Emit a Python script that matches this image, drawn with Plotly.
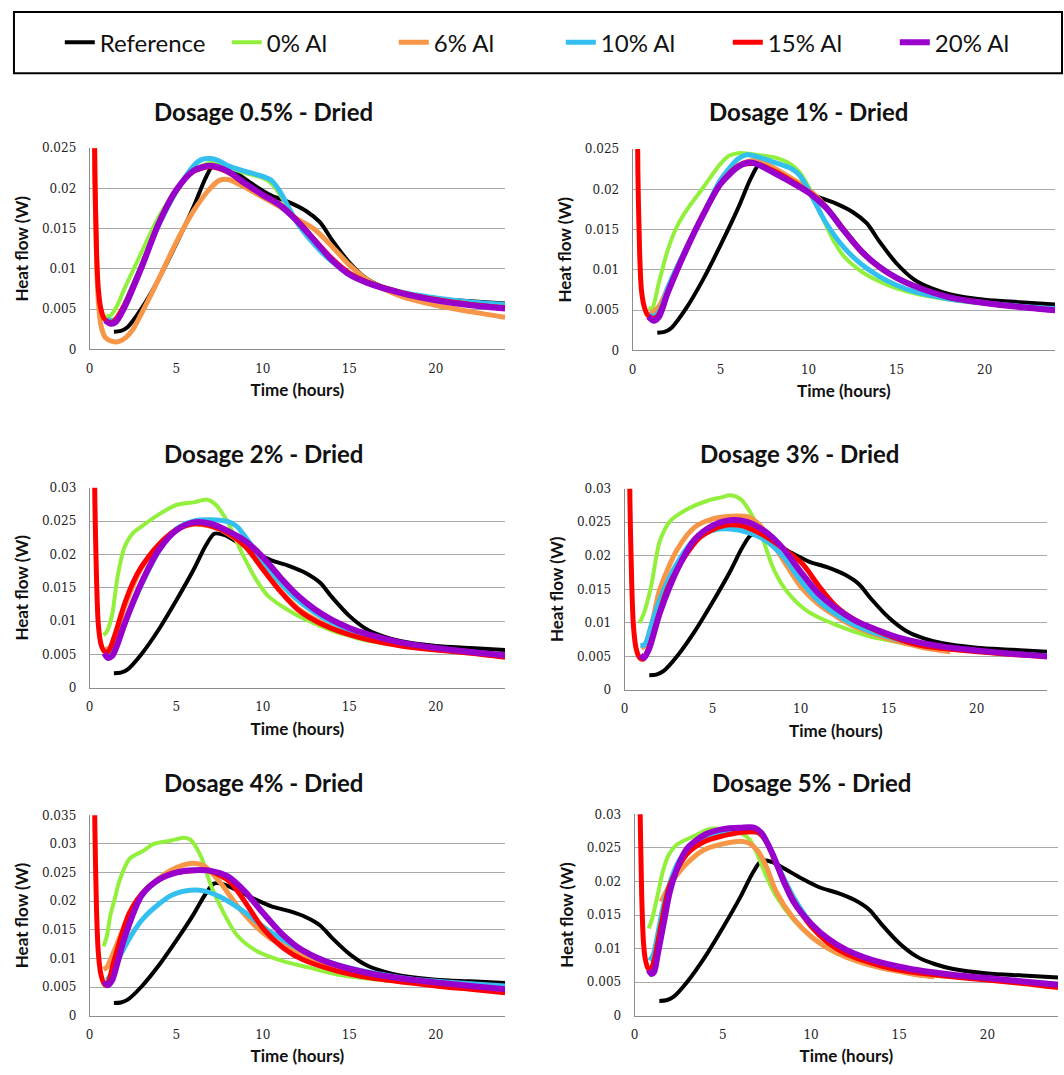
import plotly.graph_objects as go

# ---------------- data ----------------
SERIES_NAMES = ["Reference", "0% Al", "6% Al", "10% Al", "15% Al", "20% Al"]
SERIES_COLORS = ["#000000", "#92F03C", "#F79646", "#33BFEF", "#FF0000", "#9A00CC"]
SERIES_WIDTHS = [4, 4, 5, 5, 5, 6]
PANEL_TITLES = ["Dosage 0.5% - Dried", "Dosage 1% - Dried", "Dosage 2% - Dried",
                "Dosage 3% - Dried", "Dosage 4% - Dried", "Dosage 5% - Dried"]
PANEL_YMAX = [0.025, 0.025, 0.03, 0.03, 0.035, 0.03]
X_TICKS = [0, 5, 10, 15, 20]

# Reference (same curve in every panel)
REF_T = [1.4, 1.8, 2.2, 3, 4, 5, 6, 6.7, 7.2, 7.8, 8.5, 9.5, 10.5, 11.5, 12.5, 13.3, 14, 15, 16, 17, 18, 20, 22, 24]
REF_Y = [0.0022, 0.0023, 0.0028, 0.0051, 0.0088, 0.0131, 0.0177, 0.0213, 0.0231, 0.0229, 0.0219, 0.0204, 0.0191,
         0.0183, 0.0172, 0.0158, 0.0136, 0.0108, 0.0088, 0.0077, 0.0070, 0.0063, 0.0060, 0.0057]

# ---- Dosage 0.5% ----
P1_G_T = [0.95, 1.2, 1.6, 2, 2.5, 3, 4, 5, 6, 7, 8, 9, 10, 10.5, 11, 11.5, 12, 13, 14, 15, 16, 18, 20, 22, 24]
P1_G_Y = [0.0042, 0.0042, 0.0055, 0.0075, 0.0098, 0.0121, 0.0165, 0.0198, 0.0222, 0.0232, 0.0226, 0.0219, 0.0213,
          0.0206, 0.0192, 0.0175, 0.0157, 0.0132, 0.0111, 0.0095, 0.0084, 0.0070, 0.0063, 0.0059, 0.0056]
P1_O_T = [0.2, 0.3, 0.4, 0.5, 0.65, 0.9, 1.3, 1.7, 2.1, 2.5, 3, 4, 5, 6, 7, 7.5, 8, 9, 10, 11, 12, 13, 14, 15, 16,
          17, 18, 20, 22, 24]
P1_O_Y = [0.045, 0.022, 0.011, 0.006, 0.003, 0.0015, 0.0010, 0.0010, 0.0015, 0.0025, 0.0045, 0.0088, 0.0133, 0.0172,
          0.0201, 0.0210, 0.0211, 0.0201, 0.0189, 0.0177, 0.0162, 0.0149, 0.0128, 0.0105, 0.0087, 0.0075, 0.0066,
          0.0055, 0.0047, 0.0040]
P1_B_T = [1.0, 1.3, 1.7, 2, 3, 4, 5, 6, 6.5, 7, 7.5, 8, 9, 10, 10.5, 11, 11.5, 12, 13, 14, 15, 16, 18, 20, 22, 24]
P1_B_Y = [0.0038, 0.0036, 0.0042, 0.0055, 0.0105, 0.0155, 0.0196, 0.0228, 0.0236, 0.0237, 0.0234, 0.0228, 0.0221,
          0.0215, 0.0210, 0.0196, 0.0176, 0.0157, 0.0130, 0.0109, 0.0094, 0.0084, 0.0071, 0.0064, 0.0059, 0.0056]
P1_R_T = [0.2, 0.3, 0.4, 0.5, 0.65, 0.85, 1.1, 1.4, 2, 3, 4, 5, 6, 7, 8, 9, 10, 11, 12, 13, 14, 15, 16, 18, 20, 22, 24]
P1_R_Y = [0.045, 0.022, 0.012, 0.0075, 0.005, 0.0038, 0.0034, 0.0035, 0.0055, 0.0104, 0.0157, 0.0197, 0.0221, 0.0227,
          0.0220, 0.0205, 0.0192, 0.0180, 0.0160, 0.0136, 0.0113, 0.0095, 0.0084, 0.0071, 0.0062, 0.0056, 0.0052]
P1_P_T = [0.9, 1.2, 1.5, 2, 3, 4, 5, 6, 7, 8, 9, 10, 11, 12, 13, 14, 15, 16, 18, 20, 22, 24]
P1_P_Y = [0.0036, 0.0032, 0.0034, 0.0052, 0.0102, 0.0157, 0.0198, 0.0222, 0.0228, 0.0221, 0.0206, 0.0192, 0.0179,
          0.0159, 0.0135, 0.0111, 0.0093, 0.0083, 0.0070, 0.0061, 0.0055, 0.0051]

# ---- Dosage 1% ----
P2_G_T = [0.9, 1.1, 1.5, 2, 2.5, 3, 4, 5, 5.5, 6, 7, 8, 9, 9.5, 10, 10.5, 11, 11.5, 12, 13, 14, 15, 16, 18, 20, 22, 24]
P2_G_Y = [0.0053, 0.0052, 0.0085, 0.0125, 0.0153, 0.0172, 0.0202, 0.0232, 0.0242, 0.0245, 0.0243, 0.0240, 0.0231,
          0.0221, 0.0203, 0.0180, 0.0155, 0.0133, 0.0117, 0.0098, 0.0086, 0.0077, 0.0071, 0.0063, 0.0058, 0.0054, 0.0051]
P2_O_T = [1.0, 1.5, 2, 3, 4, 5, 6, 7, 8, 9, 10, 11, 12, 13, 14, 15, 16, 18, 20, 22, 24]
P2_O_Y = [0.0045, 0.0055, 0.0078, 0.0125, 0.0170, 0.0208, 0.0230, 0.0236, 0.0227, 0.0214, 0.0200, 0.0178, 0.0148,
          0.0122, 0.0103, 0.0090, 0.0080, 0.0066, 0.0059, 0.0054, 0.0050]
P2_B_T = [0.95, 1.2, 1.6, 2, 3, 4, 5, 6, 6.5, 7, 8, 9, 9.5, 10, 10.5, 11, 12, 13, 14, 15, 16, 18, 20, 22, 24]
P2_B_Y = [0.0045, 0.0042, 0.0052, 0.0078, 0.0125, 0.0168, 0.0212, 0.0238, 0.0243, 0.0241, 0.0234, 0.0226, 0.0217,
          0.0199, 0.0178, 0.0158, 0.0128, 0.0107, 0.0092, 0.0081, 0.0073, 0.0064, 0.0059, 0.0055, 0.0052]
P2_R_T = [0.2, 0.3, 0.4, 0.5, 0.65, 0.85, 1.1, 1.4, 2, 3, 4, 5, 6, 7, 8, 9, 10, 11, 12, 13, 14, 15, 16, 18, 20, 22, 24]
P2_R_Y = [0.045, 0.022, 0.012, 0.0075, 0.0055, 0.0044, 0.0040, 0.0042, 0.0072, 0.0123, 0.0168, 0.0207, 0.0229, 0.0232,
          0.0223, 0.0211, 0.0197, 0.0178, 0.0150, 0.0124, 0.0104, 0.0090, 0.0080, 0.0066, 0.0059, 0.0054, 0.0050]
P2_P_T = [0.9, 1.2, 1.5, 2, 3, 4, 5, 6, 6.5, 7, 8, 9, 10, 11, 12, 13, 14, 15, 16, 18, 20, 22, 24]
P2_P_Y = [0.0042, 0.0037, 0.0042, 0.0072, 0.0123, 0.0168, 0.0207, 0.0228, 0.0233, 0.0232, 0.0221, 0.0209, 0.0196,
          0.0177, 0.0149, 0.0123, 0.0104, 0.0090, 0.0080, 0.0066, 0.0059, 0.0054, 0.0050]

# ---- Dosage 2% ----
P3_G_T = [0.8, 1.0, 1.3, 1.6, 2, 2.5, 3, 4, 5, 6, 6.8, 7.3, 8, 8.8, 9.6, 10.3, 11.5, 12.6, 14, 15, 16, 18, 20, 22, 24]
P3_G_Y = [0.0079, 0.0085, 0.0110, 0.0165, 0.0210, 0.0232, 0.0242, 0.0260, 0.0274, 0.0278, 0.0282, 0.0274, 0.0247,
          0.0202, 0.0163, 0.0138, 0.0116, 0.0101, 0.0086, 0.0078, 0.0071, 0.0063, 0.0057, 0.0053, 0.0049]
P3_O_T = [0.9, 1.2, 1.6, 2, 3, 4, 5, 6, 7, 8, 9, 10, 11, 12, 13, 14, 15, 16, 18, 20, 22, 24]
P3_O_Y = [0.0058, 0.0060, 0.0085, 0.0120, 0.0180, 0.0215, 0.0236, 0.0245, 0.0242, 0.0231, 0.0211, 0.0178, 0.0146,
          0.0120, 0.0103, 0.0090, 0.0081, 0.0074, 0.0064, 0.0058, 0.0053, 0.0047]
P3_B_T = [0.95, 1.2, 1.6, 2, 3, 4, 5, 6, 7, 8, 8.5, 9, 10, 11, 12, 13, 14, 15, 16, 18, 20, 22, 24]
P3_B_Y = [0.0052, 0.0052, 0.0068, 0.0095, 0.0155, 0.0205, 0.0238, 0.0250, 0.0252, 0.0249, 0.0242, 0.0226, 0.0190,
          0.0158, 0.0132, 0.0113, 0.0098, 0.0087, 0.0078, 0.0066, 0.0059, 0.0054, 0.0049]
P3_R_T = [0.2, 0.3, 0.4, 0.5, 0.65, 0.85, 1.05, 1.4, 2, 2.5, 3, 4, 5, 6, 7, 8, 9, 10, 11, 12, 13, 14, 15, 16, 18,
          20, 22, 24]
P3_R_Y = [0.050, 0.028, 0.016, 0.0095, 0.0066, 0.0055, 0.0054, 0.0075, 0.0125, 0.0158, 0.0182, 0.0215, 0.0237, 0.0246,
          0.0243, 0.0232, 0.0212, 0.0178, 0.0145, 0.0118, 0.0101, 0.0089, 0.0080, 0.0073, 0.0063, 0.0057, 0.0052,
          0.0046]
P3_P_T = [0.85, 1.05, 1.3, 1.6, 2, 3, 4, 5, 6, 7, 8, 9, 10, 11, 12, 13, 14, 15, 16, 18, 20, 22, 24]
P3_P_Y = [0.0052, 0.0045, 0.0048, 0.0065, 0.0095, 0.0158, 0.0207, 0.0236, 0.0248, 0.0246, 0.0235, 0.0220, 0.0196,
          0.0166, 0.0139, 0.0118, 0.0102, 0.0090, 0.0081, 0.0068, 0.0060, 0.0054, 0.0049]

# ---- Dosage 3% ----
P4_G_T = [0.85, 1.1, 1.5, 2, 2.6, 3.6, 4.7, 5.5, 6, 6.6, 7.2, 7.8, 8.5, 9.3, 10.4, 12, 13.9, 15, 16, 18, 20, 22, 24]
P4_G_Y = [0.0100, 0.0115, 0.0154, 0.0222, 0.0252, 0.0270, 0.0282, 0.0287, 0.0290, 0.0284, 0.0262, 0.0228, 0.0178,
          0.0144, 0.0117, 0.0097, 0.0080, 0.0074, 0.0069, 0.0062, 0.0057, 0.0053, 0.0050]
P4_O_T = [0.95, 1.2, 1.6, 2, 3, 4, 5, 6, 7, 7.5, 8, 9, 10, 11, 12, 13, 14, 15, 16, 17, 18.5]
P4_O_Y = [0.0062, 0.0068, 0.0105, 0.0150, 0.0210, 0.0243, 0.0255, 0.0259, 0.0258, 0.0250, 0.0235, 0.0194, 0.0154,
          0.0128, 0.0110, 0.0095, 0.0085, 0.0076, 0.0069, 0.0063, 0.0057]
P4_B_T = [0.9, 1.15, 1.5, 2, 3, 4, 5, 6, 7, 8, 9, 10, 11, 12, 13, 14, 15, 16, 18, 20, 22, 24]
P4_B_Y = [0.0066, 0.0068, 0.0095, 0.0135, 0.0190, 0.0225, 0.0238, 0.0240, 0.0235, 0.0223, 0.0199, 0.0163, 0.0133,
          0.0113, 0.0098, 0.0087, 0.0079, 0.0072, 0.0064, 0.0058, 0.0054, 0.0051]
P4_R_T = [0.2, 0.3, 0.4, 0.5, 0.65, 0.85, 1.05, 1.3, 1.7, 2.4, 3.4, 4.3, 5.5, 6.6, 7.8, 8.9, 10.1, 11, 12, 13.1, 14.6,
          16.7, 19.6, 22, 24]
P4_R_Y = [0.050, 0.028, 0.016, 0.0095, 0.0062, 0.0048, 0.0046, 0.0058, 0.0090, 0.0149, 0.0198, 0.0228, 0.0244, 0.0245,
          0.0232, 0.0213, 0.0188, 0.0156, 0.0125, 0.0104, 0.0085, 0.0067, 0.0058, 0.0053, 0.0050]
P4_P_T = [0.9, 1.1, 1.4, 2, 3, 4, 5, 6, 7, 8, 9, 10, 11, 12, 13, 14, 15, 16, 18, 20, 22, 24]
P4_P_Y = [0.0052, 0.0048, 0.0062, 0.0115, 0.0180, 0.0225, 0.0245, 0.0253, 0.0250, 0.0236, 0.0211, 0.0176, 0.0144,
          0.0122, 0.0105, 0.0093, 0.0083, 0.0075, 0.0065, 0.0059, 0.0054, 0.0050]

# ---- Dosage 4% ----
P5_G_T = [0.8, 1.0, 1.2, 1.5, 1.7, 2.3, 3.1, 3.7, 4.7, 5.4, 5.8, 6.4, 7, 7.7, 8.5, 9.7, 11.2, 12.7, 14.3, 16, 18, 20,
          22, 24]
P5_G_Y = [0.0121, 0.0140, 0.0176, 0.0210, 0.0234, 0.0274, 0.0288, 0.0300, 0.0306, 0.0311, 0.0308, 0.0280, 0.0228,
          0.0182, 0.0141, 0.0112, 0.0095, 0.0084, 0.0072, 0.0065, 0.0059, 0.0055, 0.0051, 0.0047]
P5_O_T = [0.8, 1.0, 1.4, 2.3, 3.3, 4.7, 5.8, 6.6, 7.5, 8.5, 9.5, 10.4, 12.3, 14.3, 16.2, 18, 20, 22, 24]
P5_O_Y = [0.0081, 0.0085, 0.0112, 0.0176, 0.0222, 0.0254, 0.0266, 0.0262, 0.0234, 0.0193, 0.0159, 0.0136, 0.0107,
          0.0084, 0.0069, 0.0060, 0.0054, 0.0048, 0.0042]
P5_B_T = [1.0, 1.3, 1.8, 2.5, 3.1, 4, 4.7, 5.8, 6.6, 7.5, 8.9, 10.4, 12, 13.5, 15.2, 18.1, 20, 22, 24]
P5_B_Y = [0.0062, 0.0075, 0.0107, 0.0145, 0.0170, 0.0195, 0.0210, 0.0219, 0.0218, 0.0208, 0.0182, 0.0147, 0.0118,
          0.0097, 0.0082, 0.0066, 0.0060, 0.0056, 0.0052]
P5_R_T = [0.2, 0.3, 0.4, 0.5, 0.65, 0.85, 1.0, 1.4, 2.3, 3.3, 4.7, 5.8, 6.9, 8.1, 9.1, 10, 11.2, 12.3, 14.3, 16.2, 20,
          22, 24]
P5_R_Y = [0.060, 0.033, 0.018, 0.011, 0.0072, 0.0055, 0.0053, 0.0095, 0.0180, 0.0222, 0.0248, 0.0253, 0.0253, 0.0234,
          0.0193, 0.0153, 0.0118, 0.0098, 0.0078, 0.0066, 0.0052, 0.0046, 0.0040]
P5_P_T = [0.85, 1.05, 1.3, 1.6, 2, 3, 4, 5, 6, 7, 8, 9, 10, 11, 12, 13, 14, 15, 16, 18, 20, 22, 24]
P5_P_Y = [0.0060, 0.0053, 0.0062, 0.0092, 0.0135, 0.0210, 0.0238, 0.0250, 0.0254, 0.0253, 0.0243, 0.0216, 0.0180,
          0.0146, 0.0120, 0.0103, 0.0091, 0.0082, 0.0075, 0.0065, 0.0058, 0.0052, 0.0046]

# ---- Dosage 5% ----
P6_G_T = [0.8, 1.0, 1.3, 1.6, 1.9, 2.4, 3.4, 4.2, 5, 6, 6.5, 7, 7.3, 8, 9, 10, 11, 12, 14, 16, 18, 20, 24]
P6_G_Y = [0.0130, 0.0145, 0.0179, 0.0215, 0.0238, 0.0255, 0.0268, 0.0278, 0.0278, 0.0272, 0.0263, 0.0238, 0.0218,
          0.0179, 0.0143, 0.0118, 0.0099, 0.0087, 0.0072, 0.0063, 0.0058, 0.0054, 0.0047]
P6_O_T = [1.5, 2, 3, 4, 5, 6, 6.5, 7, 7.5, 8, 9, 10, 11, 12, 13, 14, 15, 16, 17]
P6_O_Y = [0.0170, 0.0195, 0.0228, 0.0248, 0.0256, 0.0260, 0.0257, 0.0245, 0.0220, 0.0186, 0.0145, 0.0118, 0.0100,
          0.0087, 0.0078, 0.0071, 0.0066, 0.0061, 0.0058]
P6_B_T = [0.85, 1.05, 1.3, 1.6, 2, 2.5, 3, 4, 5, 6, 7, 7.5, 8, 9, 10, 11, 12, 13, 14, 15, 16, 18, 20, 22, 24]
P6_B_Y = [0.0082, 0.0090, 0.0120, 0.0160, 0.0198, 0.0230, 0.0248, 0.0265, 0.0272, 0.0275, 0.0273, 0.0258, 0.0230,
          0.0177, 0.0138, 0.0112, 0.0095, 0.0084, 0.0076, 0.0070, 0.0065, 0.0059, 0.0055, 0.0051, 0.0047]
P6_R_T = [0.2, 0.3, 0.4, 0.5, 0.6, 0.75, 0.9, 1.1, 1.5, 2, 3, 4, 5, 6, 7, 7.5, 8, 9, 10, 11, 12, 13, 14, 15, 16, 18,
          20, 22, 24]
P6_R_Y = [0.060, 0.033, 0.018, 0.011, 0.0085, 0.0071, 0.0068, 0.0082, 0.0135, 0.0195, 0.0242, 0.0260, 0.0268, 0.0273,
          0.0273, 0.0258, 0.0228, 0.0172, 0.0133, 0.0108, 0.0092, 0.0082, 0.0074, 0.0068, 0.0064, 0.0058, 0.0053,
          0.0048, 0.0042]
P6_P_T = [0.8, 0.95, 1.1, 1.3, 1.7, 2, 2.5, 3, 4, 5, 6, 6.8, 7.2, 7.8, 8.5, 9, 10, 11, 12, 13, 14, 15, 16, 18, 20,
          22, 24]
P6_P_Y = [0.0068, 0.0062, 0.0065, 0.0090, 0.0145, 0.0185, 0.0225, 0.0250, 0.0270, 0.0278, 0.0280, 0.0280, 0.0272,
          0.0242, 0.0197, 0.0170, 0.0137, 0.0114, 0.0098, 0.0087, 0.0079, 0.0073, 0.0068, 0.0061, 0.0056, 0.0051,
          0.0046]

PANELS = [
    [(REF_T, REF_Y), (P1_G_T, P1_G_Y), (P1_O_T, P1_O_Y), (P1_B_T, P1_B_Y), (P1_R_T, P1_R_Y), (P1_P_T, P1_P_Y)],
    [(REF_T, REF_Y), (P2_G_T, P2_G_Y), (P2_O_T, P2_O_Y), (P2_B_T, P2_B_Y), (P2_R_T, P2_R_Y), (P2_P_T, P2_P_Y)],
    [(REF_T, REF_Y), (P3_G_T, P3_G_Y), (P3_O_T, P3_O_Y), (P3_B_T, P3_B_Y), (P3_R_T, P3_R_Y), (P3_P_T, P3_P_Y)],
    [(REF_T, REF_Y), (P4_G_T, P4_G_Y), (P4_O_T, P4_O_Y), (P4_B_T, P4_B_Y), (P4_R_T, P4_R_Y), (P4_P_T, P4_P_Y)],
    [(REF_T, REF_Y), (P5_G_T, P5_G_Y), (P5_O_T, P5_O_Y), (P5_B_T, P5_B_Y), (P5_R_T, P5_R_Y), (P5_P_T, P5_P_Y)],
    [(REF_T, REF_Y), (P6_G_T, P6_G_Y), (P6_O_T, P6_O_Y), (P6_B_T, P6_B_Y), (P6_R_T, P6_R_Y), (P6_P_T, P6_P_Y)],
]

# ---------------- layout geometry (pixels) ----------------
W, H = 1064, 1075
# plot areas: (left, right, top, bottom) in px
AREAS = [(86, 503, 143, 347), (631, 1055, 144, 348),
         (86, 503, 487, 690), (623, 1047, 488, 692),
         (86, 503, 819, 1022), (633, 1058, 818, 1022)]
TITLE_POS = [(260, 106), (808, 106), (260, 452), (799, 452), (260, 786), (811, 786)]

TITLE_FONT = "Lato"
TICK_FONT = "DejaVu Serif"

fig = go.Figure()
layout = {}
annotations = []
for i, series in enumerate(PANELS):
    ax = "" if i == 0 else str(i + 1)
    l, r, t, b = AREAS[i]
    xdom = [l / W, r / W]
    ydom = [1 - b / H, 1 - t / H]
    for j, (tt, yy) in enumerate(series):
        fig.add_trace(go.Scatter(
            x=tt, y=yy, mode="lines", name=SERIES_NAMES[j],
            legendgroup=SERIES_NAMES[j], showlegend=(i == 0),
            line=dict(color=SERIES_COLORS[j], width=SERIES_WIDTHS[j], shape="spline", smoothing=0.8),
            xaxis="x" + ax, yaxis="y" + ax, hoverinfo="x+y+name"))
    layout["xaxis" + ax] = dict(
        domain=xdom, anchor="y" + ax, range=[0, 24], tickvals=X_TICKS,
        showgrid=False, zeroline=False, showline=True, linecolor="#8C8C8C", linewidth=1,
        ticks="", ticklabelstandoff=8, tickfont=dict(family=TICK_FONT, size=12, color="#222222"),
        title=dict(text="Time (hours)", standoff=9,
                   font=dict(family=TITLE_FONT, size=17, color="#111111", weight="bold")))
    layout["yaxis" + ax] = dict(
        domain=ydom, anchor="x" + ax, range=[0, PANEL_YMAX[i]], dtick=0.005,
        showgrid=True, gridcolor="#A8A8A8", gridwidth=1, zeroline=False,
        showline=True, linecolor="#8C8C8C", linewidth=1,
        ticks="", ticklabelstandoff=10, tickfont=dict(family=TICK_FONT, size=12, color="#222222"),
        title=dict(text="Heat flow (W)", standoff=8,
                   font=dict(family=TITLE_FONT, size=17, color="#111111", weight="bold")))
    tx, ty = TITLE_POS[i]
    annotations.append(dict(text=PANEL_TITLES[i], x=tx / W, y=1 - ty / H, xref="paper", yref="paper",
                            xanchor="center", yanchor="middle", showarrow=False,
                            font=dict(family=TITLE_FONT, size=24, color="#111111", weight="bold")))

fig.update_layout(
    width=W, height=H, margin=dict(l=0, r=0, t=0, b=0),
    paper_bgcolor="white", plot_bgcolor="white",
    annotations=annotations,
    showlegend=True,
    legend=dict(orientation="h", x=56 / W, y=1 - 36 / H, xanchor="left", yanchor="middle",
                font=dict(family=TITLE_FONT, size=24, color="#111111"),
                entrywidth=122, bgcolor="rgba(0,0,0,0)", borderwidth=0),
    shapes=[dict(type="rect", xref="paper", yref="paper", x0=10 / W, x1=1062 / W,
                 y0=1 - 67 / H, y1=1 - 5 / H, line=dict(color="black", width=2), fillcolor="rgba(0,0,0,0)",
                 layer="above")],
    **layout)

fig.write_html("out.html", config={"displayModeBar": False},
               post_script="document.body.style.margin='0';")
